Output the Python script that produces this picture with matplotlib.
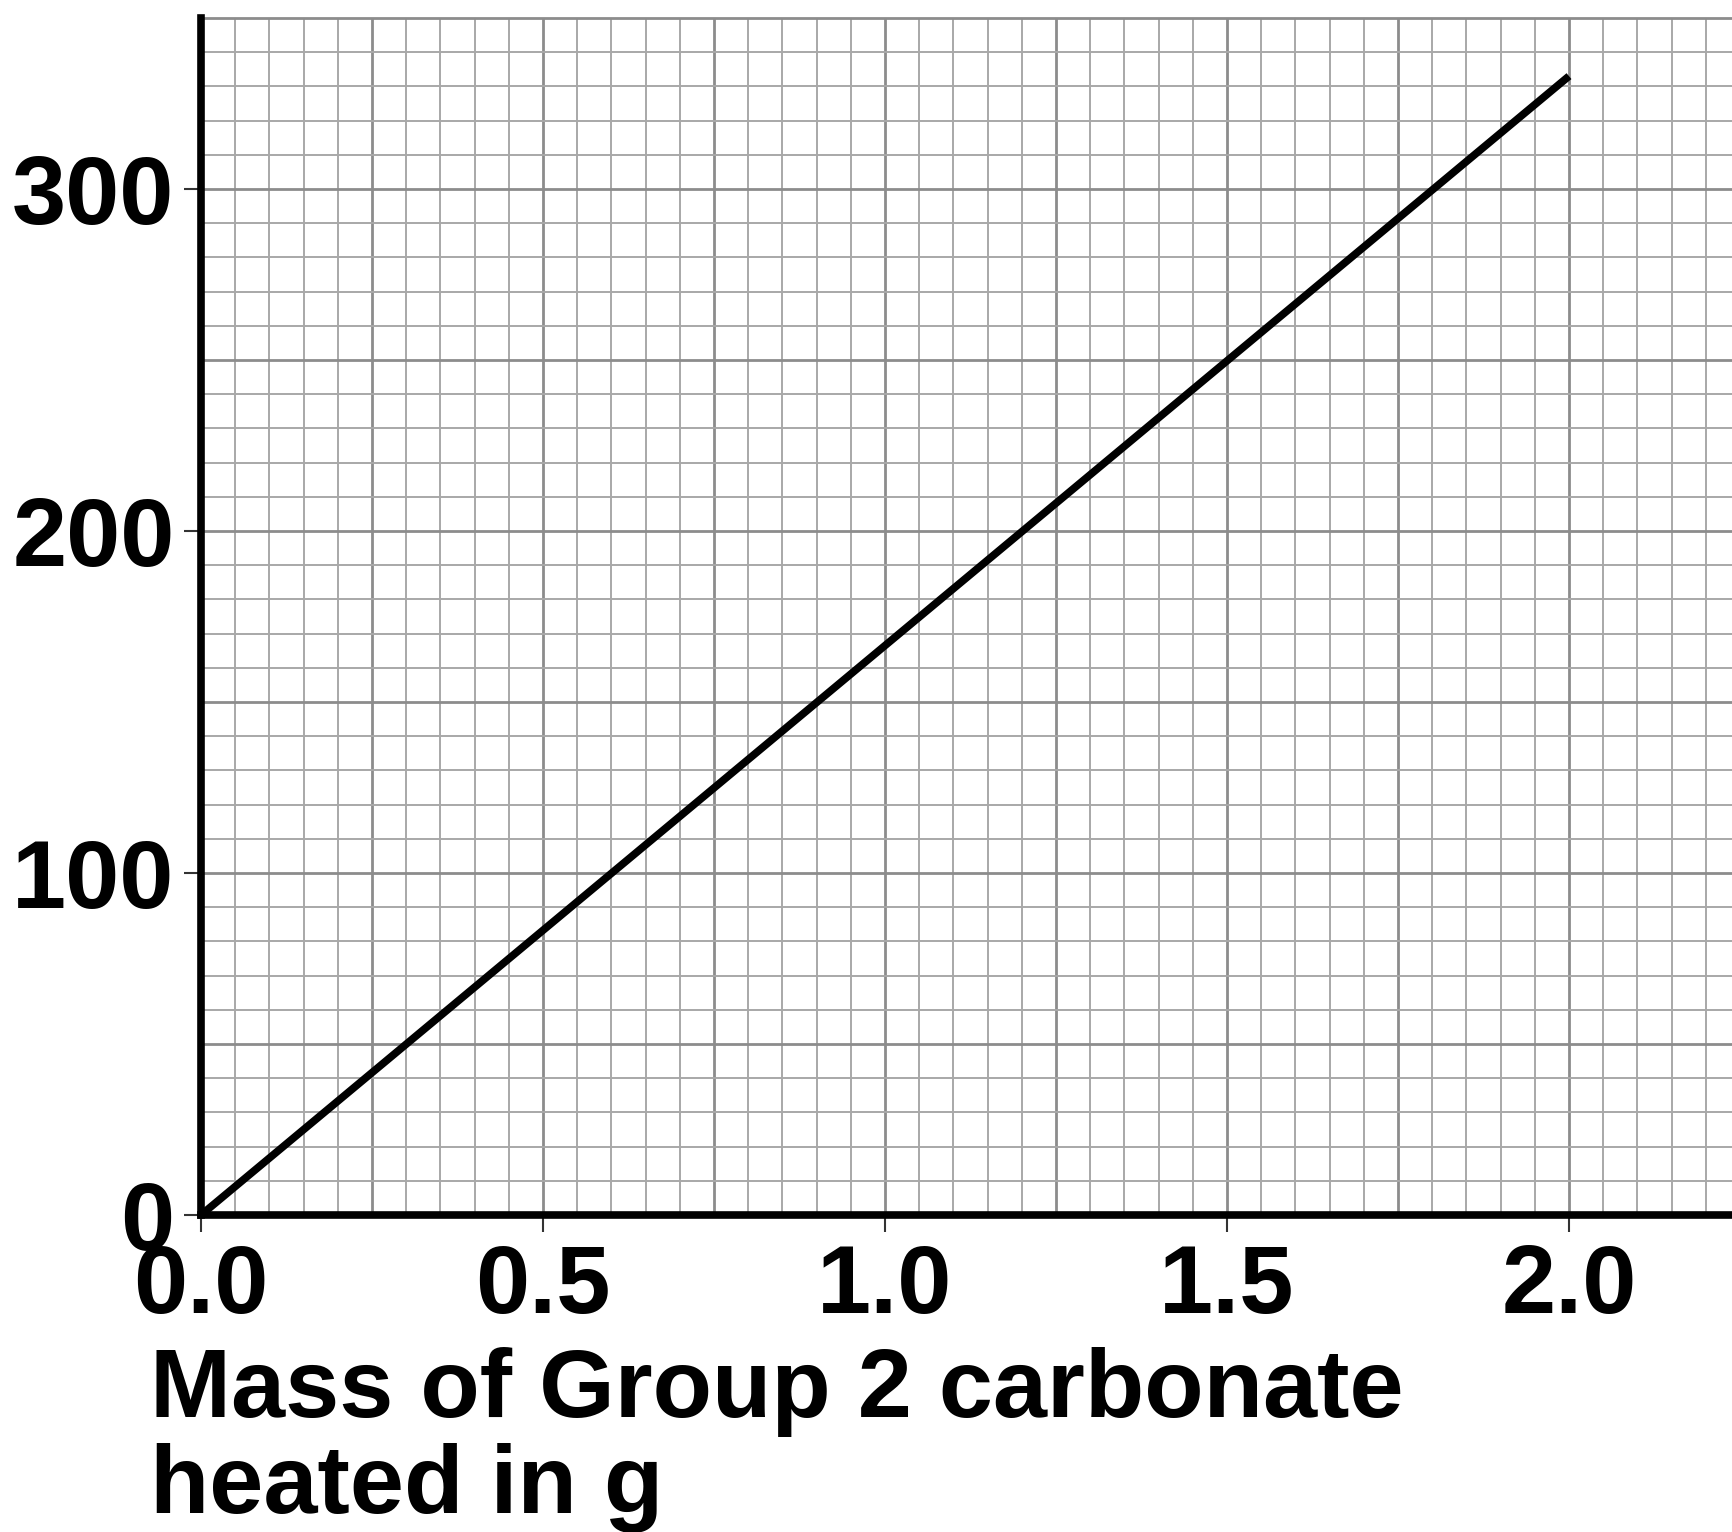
import numpy as np
import matplotlib
matplotlib.use('Agg')
import matplotlib.pyplot as plt

plt.rcParams['font.family'] = ['Liberation Sans', 'DejaVu Sans']
plt.rcParams['font.weight'] = 'bold'

# straight line
mass = [0.0, 2.0]
volume = [0, 333]

x_ticks = [0.0, 0.5, 1.0, 1.5, 2.0]
x_tick_labels = ['0.0', '0.5', '1.0', '1.5', '2.0']
y_ticks = [0, 100, 200, 300]
y_tick_labels = ['0', '100', '200', '300']
x_label = 'Mass of Group 2 carbonate\nheated in g'

W, H = 1733, 1532
fig = plt.figure(figsize=(W / 100, H / 100), dpi=100)
ax = fig.add_axes([201 / W, (H - 1215) / H, 1 - 201 / W, (1215 - 18) / H])

x_max = (W - 201) / 684
ax.set_xlim(0, x_max)
ax.set_ylim(0, 350)

# graph paper grid
for gx in np.arange(0.05, x_max, 0.05):
    major = abs(gx / 0.25 - round(gx / 0.25)) < 1e-6
    ax.axvline(gx, color='#8c8c8c' if major else '#a8a8a8',
               lw=2.0 if major else 1.4, zorder=1)
for gy in np.arange(10, 351, 10):
    major = gy % 50 == 0
    ax.axhline(gy, color='#8c8c8c' if major else '#a8a8a8',
               lw=2.0 if major else 1.4, zorder=1, clip_on=False)

ax.plot(mass, volume, color='black', lw=5.5, solid_capstyle='butt', zorder=3)

ax.set_xticks(x_ticks, x_tick_labels)
ax.set_yticks(y_ticks, y_tick_labels)
ax.tick_params(axis='both', direction='out', length=12, width=1.5,
               color='#333333', labelsize=70)
ax.tick_params(axis='x', pad=8)
ax.tick_params(axis='y', pad=7)

for side in ['top', 'right']:
    ax.spines[side].set_visible(False)
for side in ['left', 'bottom']:
    ax.spines[side].set_linewidth(5.5)
    ax.spines[side].set_color('black')
    ax.spines[side].set_zorder(4)

fig.text(150 / W, 1 - 1347 / H, x_label, fontsize=70, fontweight='bold',
         ha='left', va='top', linespacing=1.08)

plt.savefig('out.png', dpi=100)
